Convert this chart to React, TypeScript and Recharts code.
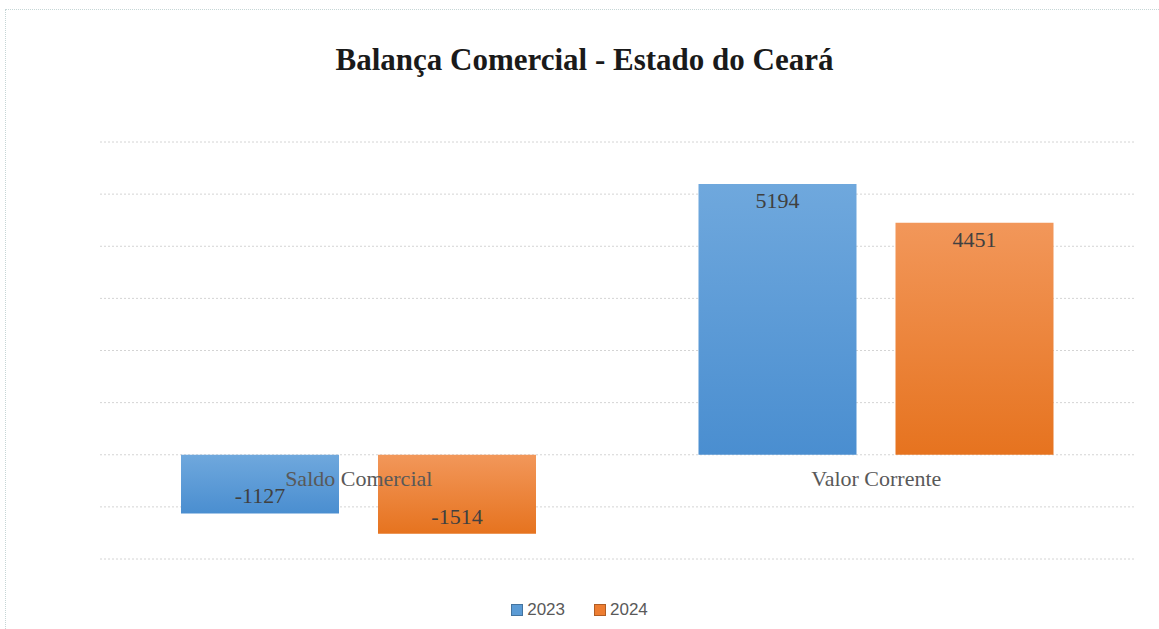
import { BarChart, Bar, XAxis, YAxis, CartesianGrid, Legend, LabelList } from 'recharts';

const categories = ['Saldo Comercial', 'Valor Corrente'];
const values2023 = [-1127, 5194];
const values2024 = [-1514, 4451];
const yTicks = [-2000, -1000, 0, 1000, 2000, 3000, 4000, 5000, 6000];

const data = categories.map((name, i) => ({
  name,
  y2023: values2023[i],
  y2024: values2024[i],
}));

const W = 1159;
const H = 629;
const plotTop = 142;
const plotBottom = 560;
const legendH = 20;
const margin = { top: plotTop, right: 24, bottom: H - plotBottom - legendH, left: 100 };
const yMin = yTicks[0];
const yMax = yTicks[yTicks.length - 1];
// y of the zero line on the page
const zeroY = plotBottom - ((plotBottom - plotTop) * (0 - yMin)) / (yMax - yMin);

const CategoryTick = (props: any) => {
  const { x, payload } = props;
  return (
    <text x={x} y={zeroY + 30} textAnchor="middle" fontFamily="'Liberation Serif', serif" fontSize={22} fill="#595959">
      {payload.value}
    </text>
  );
};

const ValueLabel = (props: any) => {
  const { x, y, width, height, value } = props;
  const top = Math.min(y, y + height);
  const bottom = Math.max(y, y + height);
  const ly = value >= 0 ? top + 24 : bottom - 10;
  return (
    <text x={x + width / 2} y={ly} textAnchor="middle" fontFamily="'Liberation Serif', serif" fontSize={22} fill="#404040">
      {value}
    </text>
  );
};

const swatch: Record<string, string> = { '2023': '#5b9bd5', '2024': '#ed7d31' };

const LegendContent = (props: any) => {
  const { payload = [] } = props;
  return (
    <div style={{ display: 'flex', justifyContent: 'center', gap: 29, fontFamily: "'Liberation Sans', sans-serif", fontSize: 17, color: '#595959' }}>
      {payload.map((p: any) => (
        <div key={p.value} style={{ display: 'flex', alignItems: 'center', gap: 4 }}>
          <span style={{ display: 'inline-block', width: 12, height: 12, background: swatch[p.value] ?? p.color, border: '1px solid rgba(0,0,0,0.25)', boxSizing: 'border-box' }} />
          <span>{p.value}</span>
        </div>
      ))}
    </div>
  );
};

export default function App() {
  return (
    <div style={{ position: 'absolute', left: 0, top: 0, width: W, height: H, background: '#fff', overflow: 'hidden' }}>
      <div style={{ position: 'absolute', left: 5, top: 9, width: W, height: H, borderLeft: '1px dotted #c6d6d6', borderTop: '1px dotted #c6d6d6' }} />
      <div style={{ position: 'absolute', left: 10, top: 42, width: W - 10, textAlign: 'center', fontFamily: "'Liberation Serif', serif", fontWeight: 'bold', fontSize: 31, color: '#1a1a1a' }}>
        Balança Comercial - Estado do Ceará
      </div>
      <BarChart width={W} height={H} data={data} margin={margin} barSize={158} barGap={39} barCategoryGap={81} style={{ position: 'absolute', left: 0, top: 0 }}>
        <defs>
          <linearGradient id="g2023" x1="0" y1="0" x2="0" y2="1">
            <stop offset="0%" stopColor="#6fa8dd" />
            <stop offset="100%" stopColor="#4a8ed0" />
          </linearGradient>
          <linearGradient id="g2024" x1="0" y1="0" x2="0" y2="1">
            <stop offset="0%" stopColor="#f2975a" />
            <stop offset="100%" stopColor="#e6731f" />
          </linearGradient>
        </defs>
        <CartesianGrid vertical={false} stroke="#d4d4d4" strokeDasharray="2 2" />
        <YAxis hide domain={[yMin, yMax]} ticks={yTicks} />
        <Legend
          verticalAlign="bottom"
          content={<LegendContent />}
          wrapperStyle={{ left: 0, width: W, bottom: 9 }}
        />
        <Bar dataKey="y2023" name="2023" fill="url(#g2023)" legendType="square" isAnimationActive={false}>
          <LabelList dataKey="y2023" content={<ValueLabel />} />
        </Bar>
        <Bar dataKey="y2024" name="2024" fill="url(#g2024)" legendType="square" isAnimationActive={false}>
          <LabelList dataKey="y2024" content={<ValueLabel />} />
        </Bar>
        <XAxis dataKey="name" axisLine={false} tickLine={false} height={1} tick={<CategoryTick />} interval={0} />
      </BarChart>
    </div>
  );
}
